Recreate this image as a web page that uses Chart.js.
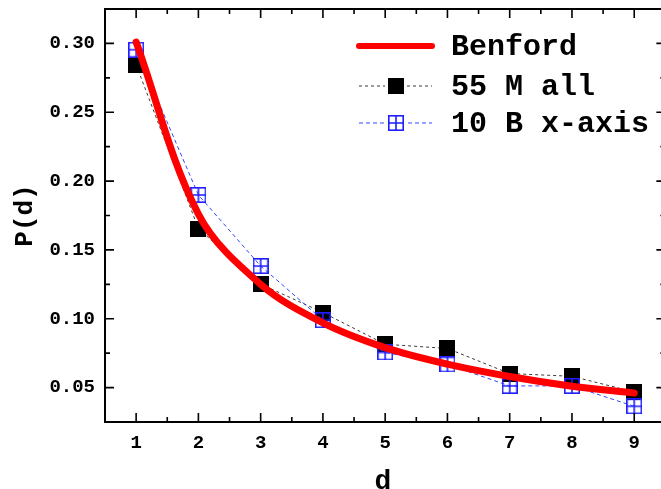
<!DOCTYPE html>
<html>
<head>
<meta charset="utf-8">
<script src="https://cdn.jsdelivr.net/npm/chart.js@4/dist/chart.umd.min.js"></script>
<style>
  html, body { margin: 0; padding: 0; background: #fff; }
</style>
</head>
<body>
<canvas id="chart" width="661" height="489"></canvas>
<script>
// values
const digits = [1, 2, 3, 4, 5, 6, 7, 8, 9];
const benford = [0.301, 0.176, 0.125, 0.097, 0.079, 0.067, 0.058, 0.051, 0.046];
const all55M = [0.2845, 0.1655, 0.1252, 0.1045, 0.0815, 0.0784, 0.0602, 0.0582, 0.0468];
const xaxis10B = [0.2954, 0.1899, 0.1383, 0.0990, 0.0755, 0.0668, 0.0512, 0.0512, 0.0364];
const seriesNames = ['Benford', '55 M all', '10 B x-axis'];
const yTickValues = [0.05, 0.10, 0.15, 0.20, 0.25, 0.30];
const xTickValues = [1, 2, 3, 4, 5, 6, 7, 8, 9];

// the plot frame runs to x = 9.5, a little past the right edge of the image
const xFrameMax = 9.5;

const mono = 'Liberation Mono, Courier New, monospace';

function squareMarker() {
    const c = document.createElement('canvas');
    c.width = 16; c.height = 16;
    const g = c.getContext('2d');
    g.fillStyle = '#000';
    g.fillRect(0, 0, 16, 16);
    return c;
}

function boxCrossMarker() {
    const c = document.createElement('canvas');
    c.width = 16; c.height = 16;
    const g = c.getContext('2d');
    g.strokeStyle = '#1f1fff';
    g.lineWidth = 1.6;
    g.strokeRect(0.8, 0.8, 14.4, 14.4);
    g.beginPath();
    g.moveTo(8, 1); g.lineTo(8, 15);
    g.moveTo(1, 8); g.lineTo(15, 8);
    g.stroke();
    return c;
}

const blackSq = squareMarker();
const blueBox = boxCrossMarker();

function pts(vals) {
    return digits.map((d, i) => ({ x: d, y: vals[i] }));
}

function noPad(s) {
    s.paddingTop = 0; s.paddingBottom = 0;
    s.paddingLeft = 0; s.paddingRight = 0;
}

// box with inward ticks on all four sides
const frame = {
    id: 'frame',
    afterDraw(chart) {
        const ctx = chart.ctx;
        const { left, top, bottom } = chart.chartArea;
        const xs = chart.scales.x, ys = chart.scales.y;
        const right = xs.getPixelForValue(xFrameMax);
        ctx.save();
        ctx.strokeStyle = '#000';
        ctx.lineWidth = 2;
        ctx.strokeRect(left, top, right - left, bottom - top);
        ctx.lineWidth = 1.6;
        ctx.beginPath();
        xTickValues.forEach((v, i) => {
            const px = xs.getPixelForValue(v);
            ctx.moveTo(px, bottom); ctx.lineTo(px, bottom - 9);
            ctx.moveTo(px, top); ctx.lineTo(px, top + 9);
            if (i < xTickValues.length - 1) {
                const mx = xs.getPixelForValue((v + xTickValues[i + 1]) / 2);
                ctx.moveTo(mx, bottom); ctx.lineTo(mx, bottom - 5);
                ctx.moveTo(mx, top); ctx.lineTo(mx, top + 5);
            }
        });
        yTickValues.forEach((v, i) => {
            const py = ys.getPixelForValue(v);
            ctx.moveTo(left, py); ctx.lineTo(left + 9, py);
            ctx.moveTo(right, py); ctx.lineTo(right - 9, py);
            if (i < yTickValues.length - 1) {
                const my = ys.getPixelForValue((v + yTickValues[i + 1]) / 2);
                ctx.moveTo(left, my); ctx.lineTo(left + 5, my);
                ctx.moveTo(right, my); ctx.lineTo(right - 5, my);
            }
        });
        ctx.stroke();
        ctx.restore();
    }
};

// legend: line sample with marker in the middle, like the original
const sampleLegend = {
    id: 'sampleLegend',
    afterDraw(chart) {
        const ctx = chart.ctx;
        const rows = [46, 86, 123];
        chart.data.datasets.forEach((ds, i) => {
            const y = rows[i];
            ctx.save();
            ctx.strokeStyle = ds.borderColor;
            ctx.lineWidth = i === 0 ? 6 : 1;
            ctx.lineCap = i === 0 ? 'round' : 'butt';
            ctx.setLineDash(ds.borderDash || []);
            ctx.beginPath();
            ctx.moveTo(359, y); ctx.lineTo(432, y);
            ctx.stroke();
            ctx.setLineDash([]);
            if (ds.pointStyle instanceof HTMLCanvasElement) {
                const img = ds.pointStyle;
                ctx.fillStyle = '#fff';
                ctx.fillRect(396 - img.width / 2 - 3, y - img.height / 2, img.width + 6, img.height);
                ctx.drawImage(img, 396 - img.width / 2, y - img.height / 2);
            }
            ctx.fillStyle = '#000';
            ctx.font = 'bold 30px ' + mono;
            ctx.textBaseline = 'middle';
            ctx.textAlign = 'left';
            ctx.fillText(ds.label, 451, y + 1);
            ctx.restore();
        });
    }
};

new Chart(document.getElementById('chart'), {
    type: 'line',
    data: {
        datasets: [
            {
                label: seriesNames[0],
                data: pts(benford),
                borderColor: '#ff0000',
                borderWidth: 7,
                borderCapStyle: 'round',
                tension: 0.35,
                pointRadius: 0,
                order: 0
            },
            {
                label: seriesNames[1],
                data: pts(all55M),
                borderColor: '#3a3a3a',
                borderWidth: 1,
                borderDash: [3, 3],
                pointStyle: blackSq,
                pointRadius: 8,
                order: 2
            },
            {
                label: seriesNames[2],
                data: pts(xaxis10B),
                borderColor: '#3347ff',
                borderWidth: 1,
                borderDash: [4, 3],
                pointStyle: blueBox,
                pointRadius: 8,
                order: 1
            }
        ]
    },
    options: {
        responsive: false,
        animation: false,
        devicePixelRatio: 1,
        layout: { autoPadding: false, padding: { top: 9, right: 0, left: 0, bottom: 0 } },
        plugins: {
            legend: { display: false },
            tooltip: { enabled: false }
        },
        scales: {
            x: {
                type: 'linear',
                min: 0.5,
                max: 9.43,
                afterBuildTicks: s => { s.ticks = xTickValues.map(v => ({ value: v })); },
                afterFit: s => { s.height = 67; noPad(s); },
                grid: { display: false, drawTicks: false },
                border: { display: false },
                ticks: {
                    padding: 10,
                    color: '#000',
                    font: { family: mono, size: 19, weight: 'bold' },
                    callback: v => String(v)
                },
                title: {
                    display: true,
                    text: 'd',
                    color: '#000',
                    font: { family: mono, size: 28, weight: 'bold' },
                    padding: { top: 0, bottom: -10 }
                }
            },
            y: {
                min: 0.025,
                max: 0.325,
                afterBuildTicks: s => { s.ticks = yTickValues.map(v => ({ value: v })); },
                afterFit: s => { s.width = 105; noPad(s); },
                grid: { display: false, drawTicks: false },
                border: { display: false },
                ticks: {
                    padding: 10,
                    color: '#000',
                    font: { family: mono, size: 19, weight: 'bold' },
                    callback: v => v.toFixed(2)
                },
                title: {
                    display: true,
                    text: 'P(d)',
                    color: '#000',
                    font: { family: mono, size: 26, weight: 'bold' },
                    padding: { top: 10, bottom: 0 }
                }
            }
        }
    },
    plugins: [frame, sampleLegend]
});
</script>
</body>
</html>
